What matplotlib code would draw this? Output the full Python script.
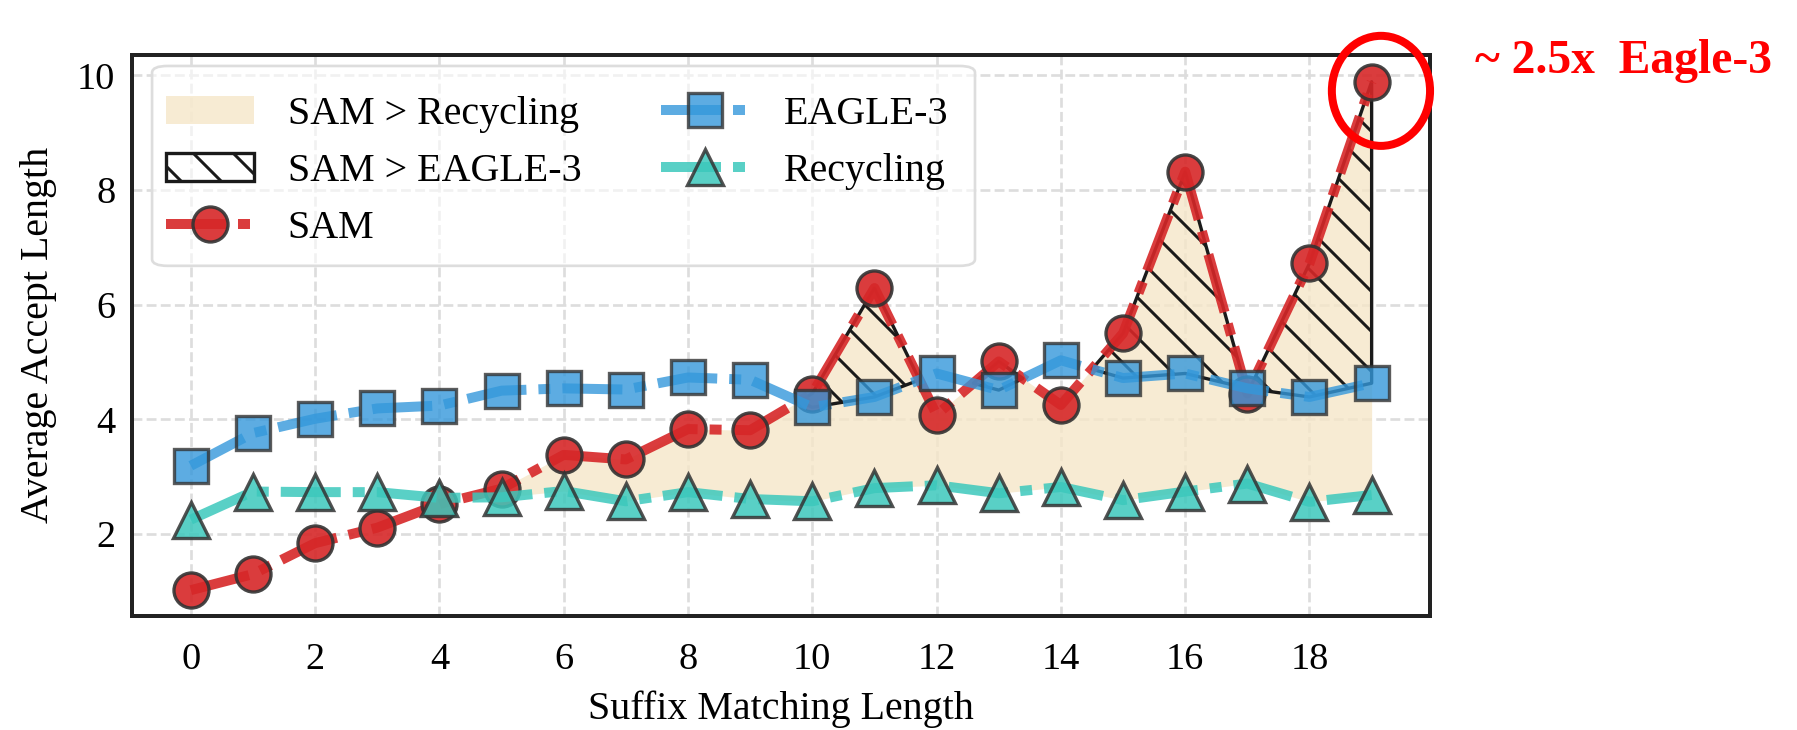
import numpy as np
import matplotlib
matplotlib.use("Agg")
import matplotlib.pyplot as plt
from matplotlib.patches import Ellipse, FancyBboxPatch

plt.rcParams['font.family'] = ['Liberation Serif', 'DejaVu Serif']
plt.rcParams['hatch.linewidth'] = 0.9

# values
suffix_len = np.arange(20)
sam = [1.02, 1.30, 1.84, 2.11, 2.52, 2.79, 3.38, 3.30, 3.83, 3.81,
       4.45, 6.29, 4.08, 5.01, 4.25, 5.50, 8.32, 4.45, 6.72, 9.89]
eagle3 = [3.19, 3.76, 4.01, 4.19, 4.24, 4.50, 4.54, 4.52, 4.73, 4.69,
          4.21, 4.39, 4.80, 4.51, 5.03, 4.72, 4.80, 4.54, 4.39, 4.63]
recycling = [2.25, 2.74, 2.73, 2.73, 2.63, 2.64, 2.75, 2.57, 2.73, 2.61,
             2.57, 2.80, 2.85, 2.71, 2.82, 2.59, 2.74, 2.88, 2.56, 2.68]

sam = np.array(sam)
eagle3 = np.array(eagle3)
recycling = np.array(recycling)

fig = plt.figure(figsize=(1797 / 240, 730 / 240), dpi=240)
ax = fig.add_axes([0.0735, 0.156, 0.7223, 0.769])

ax.fill_between(suffix_len, recycling, sam, where=sam > recycling, interpolate=True,
                color='#F5E6C8', alpha=0.8, linewidth=0, zorder=1, label='SAM > Recycling')
ax.fill_between(suffix_len, eagle3, sam, where=sam > eagle3, interpolate=True,
                facecolor='none', edgecolor='#1a1a1a', hatch='\\\\', linewidth=1.0,
                zorder=2, label='SAM > EAGLE-3')

dash = (6, 1.2, 1.2, 1.2)
common = dict(linewidth=3, markeredgecolor='#333333', markeredgewidth=1.0, zorder=3)
ax.plot(suffix_len, sam, color='#D62728', alpha=0.9, marker='o', markersize=10.5,
        dashes=dash, label='SAM', **common)
ax.plot(suffix_len, eagle3, color='#3498DB', alpha=0.8, marker='s', markersize=10,
        dashes=dash, label='EAGLE-3', **common)
ax.plot(suffix_len, recycling, color='#3CC8BC', alpha=0.85, marker='^', markersize=11,
        dashes=dash, label='Recycling', **common)

ax.set_xlim(-0.945, 19.94)
ax.set_ylim(0.567, 10.36)
ax.set_xticks(range(0, 20, 2))
ax.set_yticks([2, 4, 6, 8, 10])
ax.tick_params(axis='x', length=0, pad=8, labelsize=11.5)
ax.tick_params(axis='y', length=0, pad=5, labelsize=11.5)
ax.grid(True, linestyle='--', color='#dddddd', linewidth=0.8)
ax.set_axisbelow(True)
for s in ax.spines.values():
    s.set_linewidth(1.2)
    s.set_color('#222222')

ax.set_xlabel('Suffix Matching Length', fontsize=12, labelpad=4)
ax.set_ylabel('Average Accept Length', fontsize=12, labelpad=6)

# legend box drawn by hand so the padding can be taller than it is wide
ax.add_patch(FancyBboxPatch((0.0154, 0.624), 0.634, 0.356, transform=ax.transAxes,
                            boxstyle='round,pad=0,rounding_size=0.012',
                            facecolor='white', alpha=0.6, edgecolor='none', zorder=4))
ax.add_patch(FancyBboxPatch((0.0154, 0.624), 0.634, 0.356, transform=ax.transAxes,
                            boxstyle='round,pad=0,rounding_size=0.012',
                            facecolor='none', edgecolor='#dddddd', linewidth=0.8, zorder=4))
ax.legend(ncol=2, loc='upper left', bbox_to_anchor=(0.0136, 0.955), borderaxespad=0,
          fontsize=12, handlelength=2.2, handletextpad=0.85, labelspacing=0.5,
          borderpad=0.4, columnspacing=2.0, frameon=False)

ax.add_patch(Ellipse((19.15, 9.73), 1.58, 1.92, fill=False, edgecolor='red',
                     linewidth=2.4, clip_on=False, zorder=5))
fig.text(0.8208, 0.9, '~ 2.5x  Eagle-3', color='red', fontsize=14.3, fontweight='bold',
         va='baseline', ha='left')

fig.savefig('out.png', dpi=240)
